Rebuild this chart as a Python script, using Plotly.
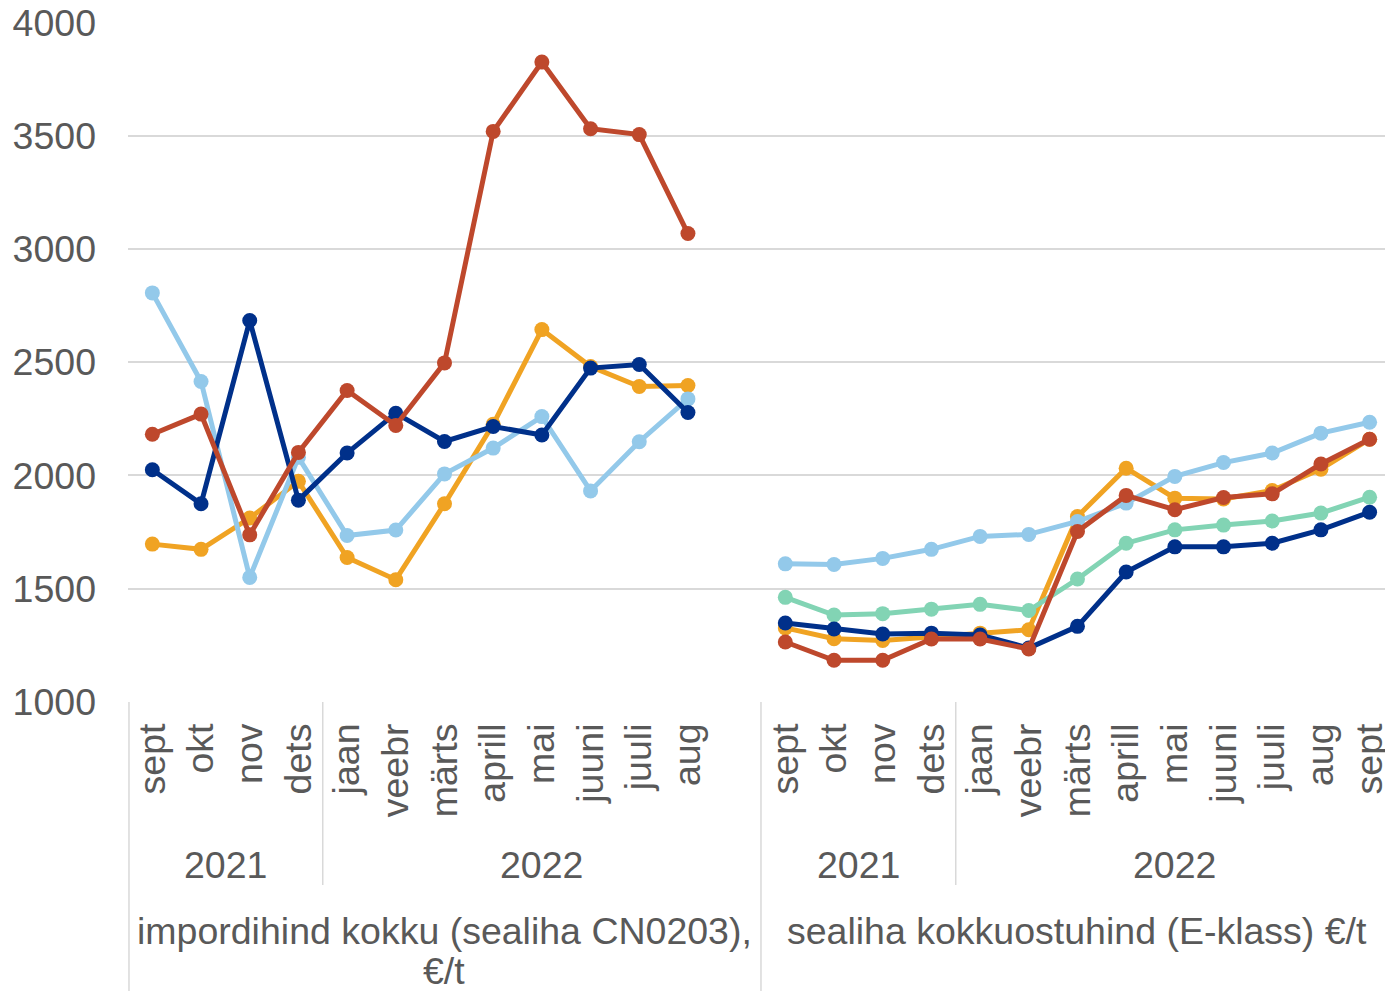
import plotly.graph_objects as go

# ---- data ----
months = ["sept", "okt", "nov", "dets", "jaan", "veebr", "märts", "aprill", "mai",
          "juuni", "juuli", "aug", "",
          "sept", "okt", "nov", "dets", "jaan", "veebr", "märts", "aprill", "mai",
          "juuni", "juuli", "aug", "sept"]
year_labels = ["2021", "2022", "2021", "2022"]
year_spans = [(0, 3), (4, 12), (13, 16), (17, 25)]
group_labels = ["impordihind kokku (sealiha CN0203),", "sealiha kokkuostuhind (E-klass) €/t"]
group_spans = [(0, 12), (13, 25)]

dark_blue = [2025, 1875, 2684, 1891, 2099, 2275, 2150, 2216, 2179, 2474, 2490, 2278, None,
             1349, 1322, 1300, 1304, 1296, 1238, 1334, 1574, 1685, 1685, 1701, 1760, 1838]
light_blue = [2806, 2415, 1550, 2080, 1735, 1759, 2007, 2121, 2260, 1932, 2149, 2338, None,
              1610, 1607, 1634, 1674, 1731, 1740, 1797, 1878, 1996, 2057, 2099, 2187, 2235]
orange = [1697, 1674, 1812, 1974, 1638, 1540, 1875, 2226, 2644, 2481, 2393, 2397, None,
          1327, 1279, 1272, 1287, 1304, 1319, 1819, 2032, 1900, 1896, 1934, 2028, 2160]
green = [None] * 13 + [1462, 1384, 1390, 1410, 1431, 1404, 1543, 1701, 1760, 1781, 1799, 1834, 1904]
red = [2182, 2271, 1738, 2102, 2375, 2221, 2497, 3519, 3825, 3531, 3505, 3068, None,
       1265, 1184, 1184, 1278, 1278, 1234, 1753, 1912, 1849, 1903, 1919, 2051, 2160]

series = [
    ("orange", orange, "#F0A323"),
    ("light_blue", light_blue, "#93C9EA"),
    ("green", green, "#82D4B4"),
    ("dark_blue", dark_blue, "#00308A"),
    ("red", red, "#BE482C"),
]

xs = list(range(len(months)))
FONT = "Liberation Sans, Arial, sans-serif"
GRAY = "#595959"
LINE = "#D9D9D9"
FS = 37.5

fig = go.Figure()
for name, vals, col in series:
    fig.add_trace(go.Scatter(
        x=xs, y=vals, mode="lines+markers", name=name,
        line=dict(color=col, width=5), marker=dict(color=col, size=15),
        connectgaps=False, showlegend=False, cliponaxis=False, hoverinfo="skip",
    ))

fig.update_layout(
    width=1385, height=991,
    margin=dict(l=128, r=0, t=22, b=289, autoexpand=False),
    paper_bgcolor="white", plot_bgcolor="white",
    font=dict(family=FONT, size=FS, color=GRAY),
    showlegend=False,
)
fig.update_yaxes(range=[1000, 4002], tickvals=[1000, 1500, 2000, 2500, 3000, 3500, 4000],
                 showgrid=True, gridcolor=LINE, gridwidth=1.5, zeroline=False,
                 showline=False, ticks="", ticklabelstandoff=31, automargin=False,
                 tickfont=dict(size=FS, color=GRAY, family=FONT))
fig.update_xaxes(range=[-0.5, 25.316], tickmode="array",
                 tickvals=[i for i, m in enumerate(months) if m],
                 ticktext=[m for m in months if m],
                 tickangle=-90, showgrid=False, zeroline=False, showline=False,
                 ticks="", ticklabelstandoff=13, ticklabeloverflow="allow",
                 automargin=False,
                 tickfont=dict(size=FS, color=GRAY, family=FONT))

def py(Y):
    # pixel row -> paper y
    return (702 - Y) / 680.0

# separators
for x0, y_end in [(-0.48, 995), (3.5, 885), (12.5, 995), (16.5, 885)]:
    fig.add_shape(type="line", xref="x", yref="paper", x0=x0, x1=x0,
                  y0=0, y1=py(y_end), line=dict(color=LINE, width=1.5))

for lab, (a, b) in zip(year_labels, year_spans):
    fig.add_annotation(x=(a + b) / 2 if b != 25 else 21, y=py(865), xref="x", yref="paper",
                       text=lab, showarrow=False, yanchor="middle",
                       font=dict(size=FS, color=GRAY, family=FONT))

for lab, (a, b) in zip(group_labels, group_spans):
    fig.add_annotation(x=(a + b) / 2 if b != 25 else 19, y=py(931), xref="x", yref="paper",
                       text=lab, showarrow=False, yanchor="middle",
                       font=dict(size=FS, color=GRAY, family=FONT))
fig.add_annotation(x=6, y=py(971), xref="x", yref="paper", text="€/t",
                   showarrow=False, yanchor="middle",
                   font=dict(size=FS, color=GRAY, family=FONT))

fig.write_html("out.html", config={"displayModeBar": False},
               post_script="document.body.style.margin='0';document.body.style.overflow='hidden';")
